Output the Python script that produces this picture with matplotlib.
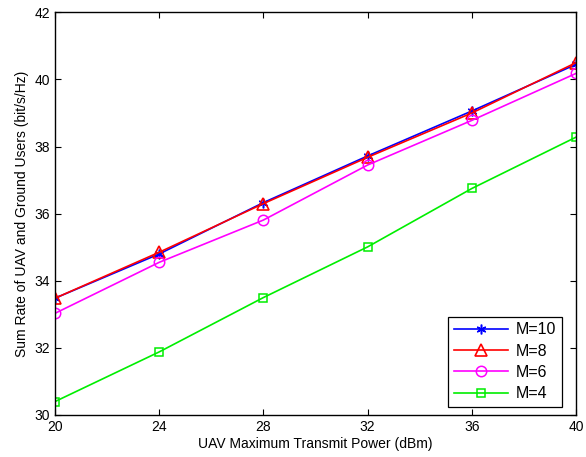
import numpy as np
import matplotlib
matplotlib.use('Agg')
import matplotlib.pyplot as plt

# transmit power levels (dBm)
power = [20, 24, 28, 32, 36, 40]

# sum rate for each number of antennas M
rate_m10 = [33.48, 34.80, 36.33, 37.72, 39.06, 40.45]
rate_m8 = [33.48, 34.85, 36.30, 37.68, 39.00, 40.50]
rate_m6 = [33.03, 34.55, 35.81, 37.45, 38.78, 40.18]
rate_m4 = [30.40, 31.88, 33.50, 35.01, 36.75, 38.28]

x_ticks = [20, 24, 28, 32, 36, 40]
y_ticks = [30, 32, 34, 36, 38, 40, 42]


def main():
    plt.rcParams['font.family'] = ['Liberation Sans', 'DejaVu Sans']
    plt.rcParams['font.size'] = 10

    fig = plt.figure(figsize=(5.86, 4.57), dpi=100)
    ax = fig.add_axes([0.094, 0.092, 0.889, 0.881])

    # asterisk marker like MATLAB's '*'
    ax.plot(power, rate_m10, color='#0000ff', marker=(6, 2, 0), markersize=7,
            markeredgewidth=1.1, lw=1.2, label='M=10')
    ax.plot(power, rate_m8, color='#ff0000', marker='^', markersize=8, lw=1.2,
            markerfacecolor='none', markeredgewidth=1.2, label='M=8')
    ax.plot(power, rate_m6, color='#ff00ff', marker='o', markersize=7.5, lw=1.2,
            markerfacecolor='none', markeredgewidth=1.1, label='M=6')
    ax.plot(power, rate_m4, color='#00ee00', marker='s', markersize=6, lw=1.2,
            markerfacecolor='none', markeredgewidth=1.1, label='M=4')

    ax.set_xlim(20, 40)
    ax.set_ylim(30, 42)
    ax.set_xticks(x_ticks)
    ax.set_yticks(y_ticks)
    ax.tick_params(direction='in', top=True, right=True, length=4, labelsize=10)
    for side in ax.spines.values():
        side.set_linewidth(1.0)

    ax.set_xlabel('UAV Maximum Transmit Power (dBm)', labelpad=2)
    ax.set_ylabel('Sum Rate of UAV and Ground Users (bit/s/Hz)', labelpad=4)

    leg = ax.legend(loc='lower right', fancybox=False, edgecolor='black', framealpha=1,
                    handlelength=3.4, borderpad=0.35, labelspacing=0.4, fontsize=11.5,
                    handletextpad=0.5, borderaxespad=0, bbox_to_anchor=(0.973, 0.02))
    leg.get_frame().set_linewidth(0.9)

    fig.savefig('out.png', dpi=100)


if __name__ == '__main__':
    main()
